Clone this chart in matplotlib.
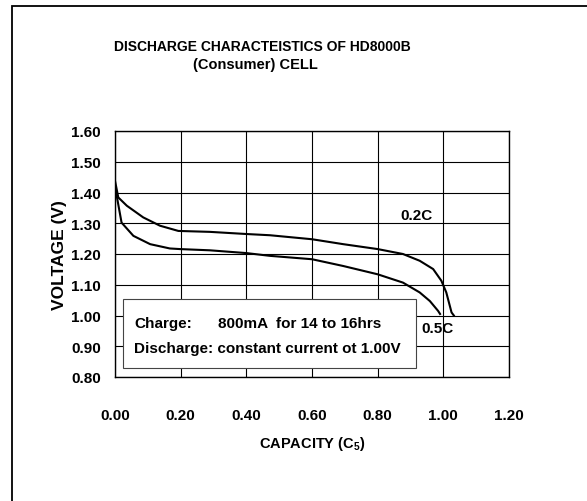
import matplotlib
matplotlib.use("Agg")
import matplotlib.pyplot as plt
from matplotlib.patches import Rectangle

plt.rcParams['font.family'] = ['Liberation Sans']
plt.rcParams['font.weight'] = 'bold'
plt.rcParams['axes.labelweight'] = 'bold'
plt.rcParams['mathtext.fontset'] = 'custom'
plt.rcParams['mathtext.rm'] = 'Liberation Sans:bold'

# 0.2C discharge curve
cap_02 = [0, 0.010, 0.036, 0.086, 0.137, 0.193, 0.289, 0.40, 0.472, 0.6,
          0.695, 0.8, 0.877, 0.928, 0.969, 0.994, 1.009, 1.025, 1.032]
volt_02 = [1.438, 1.384, 1.357, 1.319, 1.292, 1.275, 1.272, 1.265, 1.261,
           1.248, 1.232, 1.216, 1.20, 1.178, 1.151, 1.113, 1.075, 1.010, 1.00]

# 0.5C discharge curve
cap_05 = [0, 0.020, 0.056, 0.107, 0.167, 0.198, 0.289, 0.40, 0.472, 0.6,
          0.695, 0.8, 0.877, 0.928, 0.959, 0.984, 0.99]
volt_05 = [1.42, 1.302, 1.259, 1.232, 1.218, 1.216, 1.212, 1.203, 1.194,
           1.183, 1.161, 1.134, 1.107, 1.075, 1.047, 1.015, 1.005]

xticks = [0.0, 0.2, 0.4, 0.6, 0.8, 1.0, 1.2]
yticks = [0.8, 0.9, 1.0, 1.1, 1.2, 1.3, 1.4, 1.5, 1.6]

fig = plt.figure(figsize=(5.87, 5.02), dpi=100)
ax = fig.add_axes([115/587, 1-378/502, 394/587, 246/502])

ax.plot(cap_02, volt_02, color='black', lw=1.5, zorder=3)
ax.plot(cap_05, volt_05, color='black', lw=1.5, zorder=3)

ax.set_xlim(0, 1.2)
ax.set_ylim(0.8, 1.6)
ax.set_xticks(xticks)
ax.set_yticks(yticks)
ax.set_xticklabels(['%.2f' % v for v in xticks])
ax.set_yticklabels(['%.2f' % v for v in yticks])
ax.tick_params(length=0, labelsize=11)
ax.tick_params(axis='x', pad=22)
ax.tick_params(axis='y', pad=10)
ax.grid(True, color='black', lw=0.8)
for s in ax.spines.values():
    s.set_linewidth(1)

ax.set_xlabel(r'CAPACITY (C$_{\mathrm{5}}$)', fontsize=10.5, labelpad=9)
ax.set_ylabel('VOLTAGE (V)', fontsize=12.5, labelpad=3)

ax.text(0.87, 1.315, '0.2C', fontsize=11, fontweight='bold', zorder=4)
ax.text(0.932, 0.945, '0.5C', fontsize=11, fontweight='bold', zorder=4)

box = Rectangle((0.024, 0.83), 0.892, 0.223, facecolor='white',
                edgecolor='#444444', lw=0.8, zorder=5)
ax.add_patch(box)
ax.text(0.058, 0.962, 'Charge:', fontsize=11, fontweight='bold', zorder=6)
ax.text(0.314, 0.962, '800mA  for 14 to 16hrs', fontsize=11,
        fontweight='bold', zorder=6)
ax.text(0.058, 0.880, 'Discharge: constant current ot 1.00V', fontsize=11,
        fontweight='bold', zorder=6)

fig.text(262/587, 1-47/502, 'DISCHARGE CHARACTEISTICS OF HD8000B',
         ha='center', va='center', fontsize=10, fontweight='bold')
fig.text(255/587, 1-65/502, '(Consumer) CELL',
         ha='center', va='center', fontsize=10.5, fontweight='bold')

# outer frame (runs off the right and bottom edge)
fig.patches.append(Rectangle((12/587, -0.1), 1.2, 1 - 7/502 + 0.1,
                             transform=fig.transFigure, fill=False,
                             edgecolor='black', lw=1.3))

fig.savefig('out.png', dpi=100)
